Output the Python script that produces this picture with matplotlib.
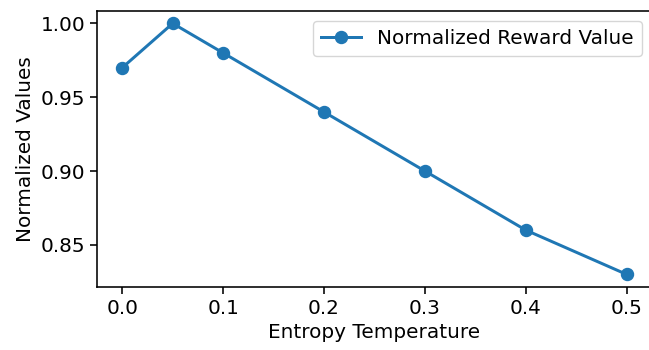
import matplotlib
matplotlib.use("Agg")
from matplotlib import pyplot as plt

# valeurs
temperatures = [0.0, 0.05, 0.1, 0.2, 0.3, 0.4, 0.5]
rewards = [0.97, 1.00, 0.98, 0.94, 0.90, 0.86, 0.83]

# l'original semble être à 144 dpi, on met tout à l'échelle pour 100 dpi
k = 1.44
plt.rcParams['font.size'] = 10 * k
plt.rcParams['xtick.major.size'] = 3.5 * k
plt.rcParams['ytick.major.size'] = 3.5 * k
plt.rcParams['xtick.major.width'] = 0.8 * k
plt.rcParams['ytick.major.width'] = 0.8 * k
plt.rcParams['axes.linewidth'] = 0.8 * k
plt.rcParams['legend.frameon'] = True

fig = plt.figure(figsize=(6.49, 3.5), dpi=100)
ax = fig.add_subplot(1, 1, 1)
ax.plot(temperatures, rewards, marker='o', markersize=6 * k, linewidth=1.5 * k,
        color='#1f77b4', label='Normalized Reward Value')

ax.set_xlabel('Entropy Temperature')
ax.set_ylabel('Normalized Values')
ax.set_yticks([0.85, 0.90, 0.95, 1.00])
ax.set_xticks([0.0, 0.1, 0.2, 0.3, 0.4, 0.5])
ax.legend(loc='upper right')

# l'axe de droite est coupé dans l'image d'origine
plt.subplots_adjust(left=0.1495, right=1.0046, top=0.969, bottom=0.18)
plt.savefig('out.png', dpi=100)
